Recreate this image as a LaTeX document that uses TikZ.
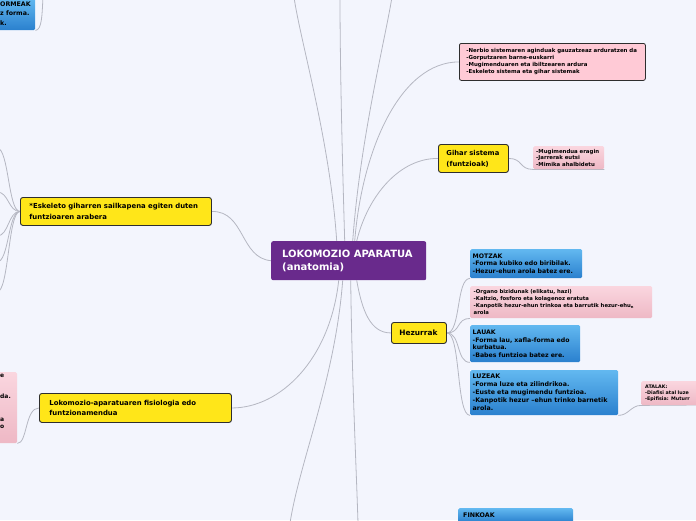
\documentclass[tikz,border=0pt]{standalone}
\usepackage{fontspec}
\setmainfont{DejaVu Sans}
\definecolor{bgc}{HTML}{F3F5FD}
\definecolor{purp}{HTML}{692A8C}
\definecolor{yel}{HTML}{FFE619}
\definecolor{pinkA}{HTML}{FFCAD6}
\definecolor{pinkT}{HTML}{FAD6DF}
\definecolor{pinkB}{HTML}{EEB8C5}
\definecolor{blueT}{HTML}{62B8F0}
\definecolor{blueB}{HTML}{2A80CE}
\definecolor{linec}{HTML}{B5B7C2}
\definecolor{edge}{HTML}{2E2E2E}
\pgfdeclarelayer{back}
\pgfdeclarelayer{bg}
\pgfsetlayers{back,bg,main}
\tikzset{
  box/.style={rectangle, anchor=north west, align=left, inner ysep=0pt, font=\bfseries},
  centre/.style={box, fill=purp, rounded corners=2pt, text=white},
  ybox/.style={box, fill=yel, draw=edge, line width=0.9pt, rounded corners=2.5pt, text=black},
  pbox/.style={box, fill=pinkA, draw=edge, line width=0.8pt, rounded corners=2pt, text=black},
  sbox/.style={box, top color=pinkT, bottom color=pinkB, rounded corners=1.5pt, text=black},
  bbox/.style={box, top color=blueT, bottom color=blueB, rounded corners=1.5pt, text=black},
  conn/.style={draw=linec, line width=0.8pt}
}
\begin{document}
\begin{tikzpicture}[x=1pt,y=-1pt]
\begin{pgfonlayer}{back}
\fill[bgc] (0,0) rectangle (696,520);
\end{pgfonlayer}
\useasboundingbox (0,0) rectangle (696,520);

% nodes
\node[centre, minimum width=155pt, minimum height=39pt, inner xsep=11pt, text width=133pt,
      font=\bfseries\fontsize{10}{13}\selectfont] (c) at (271,241)
  {LOKOMOZIO APARATUA\\(anatomia)};

\node[ybox, minimum width=191pt, minimum height=28pt, inner xsep=9pt, text width=173pt,
      font=\bfseries\fontsize{6.9}{11}\selectfont] (y1) at (20,197)
  {*Eskeleto giharren sailkapena egiten duten\\funtzioaren arabera};

\node[ybox, minimum width=192pt, minimum height=29pt, inner xsep=10pt, text width=172pt,
      font=\bfseries\fontsize{6.9}{10.5}\selectfont] (y2) at (39,393)
  {Lokomozio-aparatuaren fisiologia edo\\funtzionamendua};

\node[ybox, minimum width=70pt, minimum height=28pt, inner xsep=8pt, text width=54pt,
      font=\bfseries\fontsize{6.8}{11}\selectfont] (g) at (438,144)
  {Gihar sistema\\(funtzioak)};

\node[ybox, minimum width=55pt, minimum height=21pt, inner xsep=8pt, text width=39pt,
      font=\bfseries\fontsize{7.4}{9}\selectfont] (hz) at (391,322)
  {Hezurrak};

\node[pbox, minimum width=186pt, minimum height=37pt, inner xsep=7pt, text width=172pt,
      font=\bfseries\fontsize{5.45}{7}\selectfont] (p1) at (459,43)
  {-Nerbio sistemaren aginduak gauzatzeaz arduratzen da\\-Gorputzaren barne-euskarri\\-Mugimenduaren eta ibiltzearen ardura\\-Eskeleto sistema eta gihar sistemak};

\node[sbox, minimum width=71pt, minimum height=23pt, inner xsep=3pt, text width=65pt,
      font=\bfseries\fontsize{5.4}{6.4}\selectfont] (ps) at (533,146)
  {-Mugimendua eragin\\-Jarrerak eutsi\\-Mimika ahalbidetu};

\node[bbox, minimum width=112pt, minimum height=29pt, inner xsep=2.5pt, text width=107pt,
      font=\bfseries\fontsize{6.2}{7.8}\selectfont] (mo) at (470,249)
  {MOTZAK\\-Forma kubiko edo biribilak.\\-Hezur-ehun arola batez ere.};

\node[sbox, minimum width=182pt, minimum height=32pt, inner xsep=3.5pt, text width=175pt,
      font=\bfseries\fontsize{5.3}{7}\selectfont] (p2) at (470,286)
  {-Organo bizidunak (elikatu, hazi)\\-Kaltzio, fosforo eta kolagenoz eratuta\\-Kanpotik hezur-ehun trinkoa eta barrutik hezur-ehu\textsubscript{n}\\arola};

\node[bbox, minimum width=110pt, minimum height=37pt, inner xsep=2.5pt, text width=105pt,
      font=\bfseries\fontsize{6.2}{7.8}\selectfont] (la) at (470,325)
  {LAUAK\\-Forma lau, xafla-forma edo\\kurbatua.\\-Babes funtzioa batez ere.};

\node[bbox, minimum width=148pt, minimum height=45pt, inner xsep=2.5pt, text width=143pt,
      font=\bfseries\fontsize{6.3}{8}\selectfont] (lz) at (470,370)
  {LUZEAK\\-Forma luze eta zilindrikoa.\\-Euste eta mugimendu funtzioa.\\-Kanpotik hezur --ehun trinko barnetik\\arola.};

\node[sbox, minimum width=70pt, minimum height=24pt, inner xsep=4pt, text width=62pt,
      font=\bfseries\fontsize{4.8}{6.3}\selectfont] (at) at (641,381)
  {ATALAK:\\-Diafisi atal luze\\-Epifisia: Muturr};

\node[bbox, minimum width=115pt, minimum height=14pt, inner xsep=5pt, text width=105pt,
      font=\bfseries\fontsize{6.3}{7.7}\selectfont] (fk) at (458,508)
  {FINKOAK};

\node[bbox, minimum width=100pt, minimum height=32pt, inner sep=0pt] (tl) at (-65,-2) {};
\node[box, inner sep=0pt, font=\bfseries\fontsize{6.3}{9.5}\selectfont] (tlt) at (0,1.5)
  {ORMEAK\\z forma.\\k.};

\node[sbox, minimum width=117pt, minimum height=71pt, inner sep=0pt] (lp) at (-100,372) {};
\node[box, inner sep=0pt, font=\bfseries\fontsize{6}{7}\selectfont] (lpa) at (0,374) {e};
\node[box, inner sep=0pt, font=\bfseries\fontsize{6}{7}\selectfont] (lpb) at (0,394) {da.};
\node[box, inner sep=0pt, font=\bfseries\fontsize{6}{7}\selectfont] (lpc) at (0,418) {a\\o};

% free ends
\coordinate (t1) at (294,-3);
\coordinate (t2) at (340,-3);
\coordinate (t3) at (392,-3);
\coordinate (b1) at (290,523);
\coordinate (b2) at (358,523);
\coordinate (tlend) at (43,-3);
\coordinate (l1) at (-3,148);
\coordinate (l2) at (-3,192);
\coordinate (l3) at (-3,236);
\coordinate (l4) at (-3,262);
\coordinate (l5) at (-3,292);
\coordinate (atend) at (700,405);

\begin{pgfonlayer}{bg}
\draw[conn] ([xshift=-12pt]c.north) .. controls (330,140) and (300,40) .. (t1);
\draw[conn] ([xshift=-4pt]c.north) .. controls (342,150) and (340,60) .. (t2);
\draw[conn] ([xshift=4pt]c.north) .. controls (360,140) and (385,40) .. (t3);
\draw[conn] ([xshift=6pt]c.north) .. controls (362,150) and (400,62) .. (p1.west);
\draw[conn] ([xshift=8pt]c.north) .. controls (368,195) and (400,158) .. (g.west);
\draw[conn] (c.west) .. controls (240,258) and (245,211) .. (y1.east);
\draw[conn] ([xshift=-10pt]c.south) .. controls (330,360) and (280,408) .. (y2.east);
\draw[conn] ([xshift=-6pt]c.south) .. controls (335,380) and (300,460) .. (b1);
\draw[conn] ([xshift=2pt]c.south) .. controls (352,380) and (356,460) .. (b2);
\draw[conn] ([xshift=8pt]c.south) .. controls (362,310) and (370,333) .. (hz.west);
\draw[conn] (g.east) .. controls +(14,0) and +(-14,0) .. (ps.south west) -- (ps.south east);
\draw[conn] (hz.east) .. controls +(14,0) and +(-14,0) .. (mo.south west);
\draw[conn] (hz.east) .. controls +(14,0) and +(-14,0) .. (p2.south west);
\draw[conn] (hz.east) .. controls +(14,0) and +(-14,0) .. (la.south west);
\draw[conn] (hz.east) .. controls +(14,0) and +(-14,0) .. (lz.south west);
\draw[conn] (lz.south east) .. controls +(10,0) and +(-10,0) .. (at.south west) -- (atend);
\draw[conn] (y2.west) .. controls +(-14,0) and +(10,0) .. (lp.south east);
\draw[conn] (tl.south east) .. controls (42,30) and (42,15) .. (tlend);
\foreach \e in {l1,l2,l3,l4,l5}
  \draw[conn] (y1.west) .. controls +(-12,0) and +(12,0) .. (\e);
\end{pgfonlayer}
\end{tikzpicture}
\end{document}
